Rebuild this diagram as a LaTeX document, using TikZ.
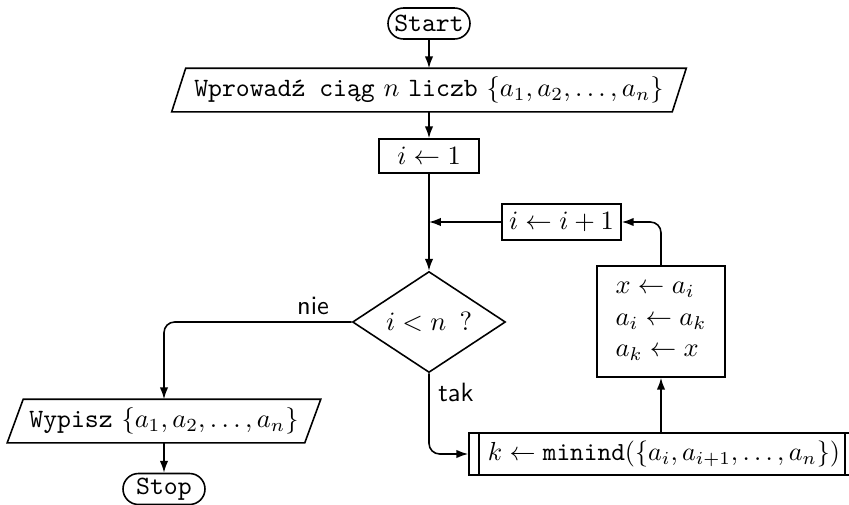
\documentclass[tikz,border=0pt]{standalone}
\usepackage{fontspec}
\usetikzlibrary{arrows.meta,shapes.geometric,shapes.misc}
\def\pxu{0.378pt}
\begin{document}
\begin{tikzpicture}[x=0.378pt,y=-0.378pt,
  line width=0.6pt,
  >={Latex[length=4.5pt,width=3.2pt]},
  term/.style={rounded rectangle, draw, minimum width=82*\pxu, minimum height=31*\pxu, inner sep=0pt, font=\ttfamily},
  io/.style={rectangle, inner sep=0pt, minimum height=42*\pxu},
  proc/.style={rectangle, draw, inner sep=0pt},
  decision/.style={diamond, draw, inner sep=0pt, aspect=1.515, minimum width=153*\pxu, minimum height=101*\pxu},
  lbl/.style={font=\sffamily, inner sep=0pt},
  conn/.style={->, rounded corners=4pt}
]
\useasboundingbox (0,0) rectangle (849,505);

\node[term] (start) at (429,23.5) {Start};
\node[io, minimum width=499*\pxu] (in) at (429,90)
  {{\ttfamily Wprowadź ciąg} $n$ {\ttfamily liczb} $\{a_1,a_2,\ldots,a_n\}$};
\node[proc, minimum width=100*\pxu, minimum height=34*\pxu] (init) at (429,156) {$i \leftarrow 1$};
\node[decision] (dec) at (429,322) {$i < n\,$ ?};
\node[proc, minimum width=119*\pxu, minimum height=36*\pxu] (inc) at (561.5,222) {$i \leftarrow i+1$};
\node[proc, minimum width=128*\pxu, minimum height=111*\pxu, align=left] (swap) at (661,321.5)
  {$x \leftarrow a_i$\\ $a_i \leftarrow a_k$\\ $a_k \leftarrow x$};
\node[proc, minimum width=386*\pxu, minimum height=42*\pxu] (pre) at (662,454)
  {\hspace*{1.5pt}\scalebox{0.985}{$k \leftarrow \mathtt{minind}(\{a_i,a_{i+1},\ldots,a_n\})$}};
\node[io, minimum width=296*\pxu] (out) at (164,421)
  {{\ttfamily Wypisz} $\{a_1,a_2,\ldots,a_n\}$};
\node[term] (stop) at (164,489) {Stop};
\node[lbl] (nie) at (313,306) {nie};
\node[lbl] (tak) at (456,392) {tak};

% parallelogram outlines
\draw ([xshift=7*\pxu]in.north west) -- ([xshift=7*\pxu]in.north east)
  -- ([xshift=-7*\pxu]in.south east) -- ([xshift=-7*\pxu]in.south west) -- cycle;
\draw ([xshift=8*\pxu]out.north west) -- ([xshift=8*\pxu]out.north east)
  -- ([xshift=-8*\pxu]out.south east) -- ([xshift=-8*\pxu]out.south west) -- cycle;
% predefined process inner lines
\draw ([xshift=11*\pxu]pre.north west) -- ([xshift=11*\pxu]pre.south west);
\draw ([xshift=-11*\pxu]pre.north east) -- ([xshift=-11*\pxu]pre.south east);

% connectors
\draw[->] (start) -- (in);
\draw[->] (in) -- (init);
\draw[->] (init) -- (dec);
\draw[->] (inc) -- (inc -| init);
\draw[conn] (dec) -| (out);
\draw[conn] (dec) |- (pre);
\draw[->] (pre.north -| swap.south) -- (swap.south);
\draw[conn] (swap) |- (inc);
\draw[->] (out) -- (stop);
\end{tikzpicture}
\end{document}
